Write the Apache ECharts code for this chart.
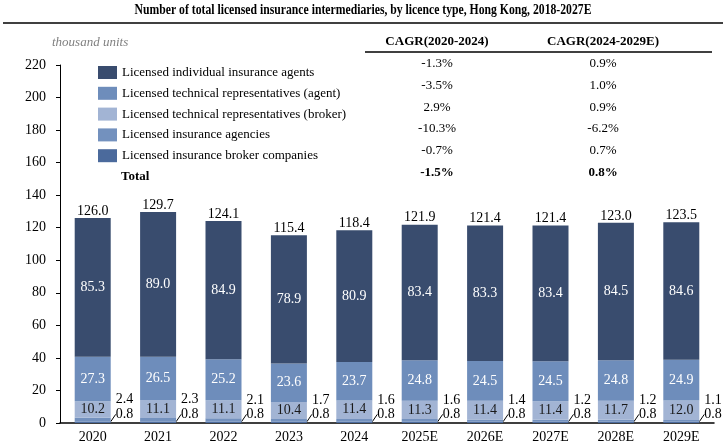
<!DOCTYPE html>
<html>
<head>
<meta charset="utf-8">
<script src="https://cdn.jsdelivr.net/npm/echarts@6/dist/echarts.min.js"></script>
<style>
html, body { margin: 0; padding: 0; background: #fff; }
#chart { width: 726px; height: 444px; }
</style>
</head>
<body>
<div id="chart"></div>
<script>
var years = ['2020', '2021', '2022', '2023', '2024', '2025E', '2026E', '2027E', '2028E', '2029E'];
var brokerCompanies = [0.8, 0.8, 0.8, 0.8, 0.8, 0.8, 0.8, 0.8, 0.8, 0.8];
var agencies = [2.4, 2.3, 2.1, 1.7, 1.6, 1.6, 1.4, 1.2, 1.2, 1.1];
var techBroker = [10.2, 11.1, 11.1, 10.4, 11.4, 11.3, 11.4, 11.4, 11.7, 12.0];
var techAgent = [27.3, 26.5, 25.2, 23.6, 23.7, 24.8, 24.5, 24.5, 24.8, 24.9];
var individual = [85.3, 89.0, 84.9, 78.9, 80.9, 83.4, 83.3, 83.4, 84.5, 84.6];
var totals = [126.0, 129.7, 124.1, 115.4, 118.4, 121.9, 121.4, 121.4, 123.0, 123.5];

var cagrHead = ['CAGR(2020-2024)', 'CAGR(2024-2029E)'];
var cagrA = ['-1.3%', '-3.5%', '2.9%', '-10.3%', '-0.7%', '-1.5%'];
var cagrB = ['0.9%', '1.0%', '0.9%', '-6.2%', '0.7%', '0.8%'];

var names = [
    'Licensed individual insurance agents',
    'Licensed technical representatives (agent)',
    'Licensed technical representatives (broker)',
    'Licensed insurance agencies',
    'Licensed insurance broker companies'
];

var serif = "'Liberation Serif', 'Times New Roman', serif";
var fmt = function (p) { return p.value.toFixed(1); };

var chart = echarts.init(document.getElementById('chart'));

// 标题、单位、CAGR 表格 用 graphic 画
var graphics = [
    {
        type: 'text', left: 'center', top: 3,
        style: { text: 'Number of total licensed insurance intermediaries, by licence type, Hong Kong, 2018-2027E', font: 'bold 15px ' + serif, fill: '#000' },
        scaleX: 0.78, originX: 363
    },
    { type: 'line', shape: { x1: 3, y1: 23, x2: 723, y2: 23 }, style: { stroke: '#000', lineWidth: 1.5 } },
    { type: 'text', x: 52, y: 36, style: { text: 'thousand units', font: 'italic 13px ' + serif, fill: '#7f7f7f' } },
    { type: 'line', shape: { x1: 365, y1: 52, x2: 712, y2: 52 }, style: { stroke: '#000', lineWidth: 1.5 } },
    { type: 'text', x: 121, y: 170, style: { text: 'Total', font: 'bold 13px ' + serif, fill: '#000' } }
];
var cols = [437, 603];
cagrHead.forEach(function (h, i) {
    graphics.push({ type: 'text', x: cols[i], y: 35, style: { text: h, font: 'bold 13px ' + serif, fill: '#000', align: 'center' } });
});
[cagrA, cagrB].forEach(function (arr, i) {
    arr.forEach(function (v, j) {
        graphics.push({
            type: 'text', x: cols[i], y: 57 + j * 21.8,
            style: { text: v, font: (j == 5 ? 'bold ' : '') + '13px ' + serif, fill: '#000', align: 'center' }
        });
    });
});

var barW = 36;
var option = {
    animation: false,
    textStyle: { fontFamily: serif },
    graphic: graphics,
    legend: {
        orient: 'vertical',
        left: 98,
        top: 66,
        padding: 0,
        itemWidth: 19,
        itemHeight: 13,
        itemGap: 7.8,
        selectedMode: false,
        textStyle: { fontFamily: serif, fontSize: 13, color: '#000' },
        data: names.map(function (n) { return { name: n, icon: 'rect' }; })
    },
    grid: { left: 60, right: 12, top: 65, bottom: 19 },
    xAxis: {
        type: 'category',
        data: years,
        axisLine: { lineStyle: { color: '#000', width: 1.5 } },
        axisTick: { show: false },
        axisLabel: { color: '#000', fontSize: 14, fontFamily: serif, margin: 7 }
    },
    yAxis: {
        type: 'value',
        min: 0,
        max: 220,
        interval: 20,
        splitLine: { show: false },
        axisLine: { show: true, lineStyle: { color: '#000' } },
        axisTick: { show: true, length: 4, lineStyle: { color: '#000' } },
        axisLabel: { color: '#000', fontSize: 14, fontFamily: serif, margin: 14 }
    },
    series: [
        {
            name: names[4], type: 'bar', stack: 'all', barWidth: barW, data: brokerCompanies,
            itemStyle: { color: '#4b6a9c' },
            label: { show: true, position: 'right', distance: 5, formatter: fmt, color: '#000', fontSize: 14, fontFamily: serif },
            labelLayout: { dy: -8 },
            labelLine: { show: true, lineStyle: { color: '#000', width: 1 } }
        },
        {
            name: names[3], type: 'bar', stack: 'all', barWidth: barW, data: agencies,
            itemStyle: { color: '#7391be' },
            label: { show: true, position: 'right', distance: 5, formatter: fmt, color: '#000', fontSize: 14, fontFamily: serif },
            labelLayout: { dy: -20 }
        },
        {
            name: names[2], type: 'bar', stack: 'all', barWidth: barW, data: techBroker,
            itemStyle: { color: '#a2b4d4' },
            label: { show: true, position: 'inside', formatter: fmt, color: '#1a1a1a', fontSize: 14, fontFamily: serif }
        },
        {
            name: names[1], type: 'bar', stack: 'all', barWidth: barW, data: techAgent,
            itemStyle: { color: '#6e8dbb' },
            label: { show: true, position: 'inside', formatter: fmt, color: '#fff', fontSize: 14, fontFamily: serif }
        },
        {
            name: names[0], type: 'bar', stack: 'all', barWidth: barW, data: individual,
            itemStyle: { color: '#394c6e' },
            label: { show: true, position: 'inside', formatter: fmt, color: '#fff', fontSize: 14, fontFamily: serif }
        },
        {
            name: 'Total', type: 'bar', barWidth: barW, barGap: '-100%', data: totals,
            itemStyle: { color: 'transparent' },
            label: { show: true, position: 'top', distance: 0, formatter: fmt, color: '#000', fontSize: 14, fontFamily: serif },
            silent: true
        }
    ]
};
chart.setOption(option);
</script>
</body>
</html>
